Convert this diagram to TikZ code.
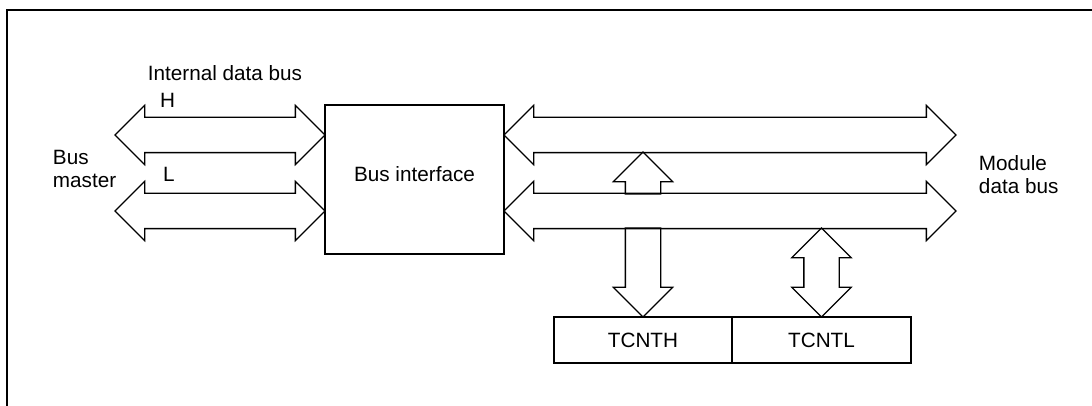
\documentclass[tikz,border=0pt]{standalone}
\usepackage{fontspec}
\setmainfont{Liberation Sans}
\usetikzlibrary{shapes.arrows, calc, positioning}

\begin{document}
\begin{tikzpicture}[x=1pt, y=-1pt, line width=1.3pt,
    every node/.style={font=\fontsize{20.7}{23}\selectfont},
    box/.style={draw, rectangle, inner sep=0pt, outer sep=0pt},
    dbus/.style={draw, double arrow, double arrow head extend=12pt,
        text height=0pt, text depth=0pt, inner xsep=0pt, inner ysep=17pt,
        minimum width=58pt, outer sep=0pt},
    sbus/.style={draw, single arrow, single arrow head extend=12pt,
        text height=0pt, text depth=0pt, inner xsep=0pt, inner ysep=17pt,
        minimum width=58pt, outer sep=0pt}]
    \useasboundingbox (0,0) rectangle (1092,406);
    \draw (1092,10) -- (7,10) -- (7,406);

    % blocks
    \node[box, minimum width=179pt, minimum height=149pt, text depth=11pt] (bif) at (414.5,179.5) {Bus interface};
    \node[box, minimum width=178pt, minimum height=46pt] (th) at (643,340) {TCNTH};
    \node[box, minimum width=179pt, minimum height=46pt, right=0pt of th] (tl) {TCNTL};

    % bus ends
    \coordinate (mH) at (115,135);
    \coordinate (mL) at (115,211);
    \coordinate (dH) at (956,135);
    \coordinate (dL) at (956,211);

    % internal data bus
    \node[dbus, minimum height=210pt] (ibH) at ($(mH)!.5!(bif.west |- mH)$) {};
    \node[dbus, minimum height=210pt] (ibL) at ($(mL)!.5!(bif.west |- mL)$) {};

    % module data bus
    \node[dbus, minimum height=452pt] (mbH) at ($(bif.east |- dH)!.5!(dH)$) {};
    \node[dbus, minimum height=452pt] (mbL) at ($(bif.east |- dL)!.5!(dL)$) {};

    % counter paths
    \node[sbus, rotate=90, minimum height=42pt, anchor=tip] (thup) at (th.north |- 0,152) {};
    \node[sbus, rotate=-90, minimum height=89pt, anchor=tip] (thdn) at (th.north) {};
    \node[dbus, rotate=90, minimum height=89pt] (tlbus) at (tl.north |- 0,272.5) {};

    % labels
    \node (idb) at (225,73) {Internal data bus};
    \node (hlab) at (167.5,100) {H};
    \node (llab) at (169,174) {L};
    \node[align=left, anchor=west] (bm) at (49,168.5) {Bus\\master};
    \node[align=left, anchor=west] (mdb) at (975,175) {Module\\data bus};
\end{tikzpicture}
\end{document}
